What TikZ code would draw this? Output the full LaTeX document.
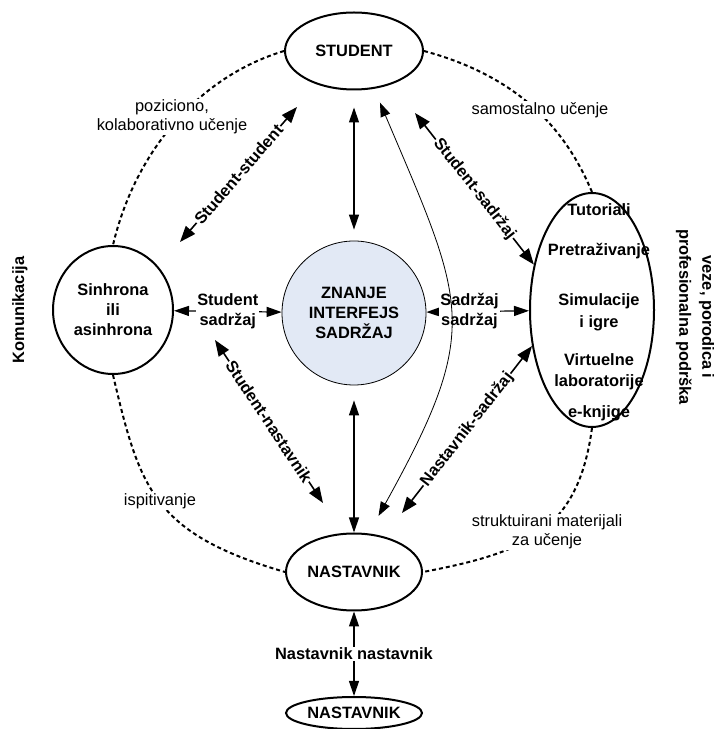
\documentclass[tikz,border=0pt]{standalone}
\usepackage{fontspec}
\setmainfont{Liberation Sans}
\usetikzlibrary{arrows.meta,shapes.geometric}
\definecolor{knowfill}{RGB}{226,233,245}
\begin{document}
\begin{tikzpicture}[x=1pt,y=1pt,
  every node/.style={font=\fontsize{16.4}{20}\selectfont},
  boldtext/.style={font=\fontsize{16.4}{20}\selectfont\bfseries,align=center},
  entity/.style={ellipse,draw,line width=2pt,inner sep=0pt,boldtext},
  lbl/.style={fill=white,inner sep=1pt,boldtext},
  note/.style={fill=white,inner sep=1pt,align=center,font=\fontsize{16.4}{19}\selectfont},
  link/.style={line width=2pt,dash pattern=on 4pt off 3pt},
  bigarrow/.style={line width=1.6pt,{Triangle[length=16pt,width=12pt]}-{Triangle[length=16pt,width=12pt]}},
  midarrow/.style={line width=1.2pt,{Triangle[length=15pt,width=10pt]}-{Triangle[length=15pt,width=10pt]}},
  thinarrow/.style={line width=0.8pt,{Triangle[length=14pt,width=10pt]}-{Triangle[length=14pt,width=10pt]}}
]
\useasboundingbox (0,0) rectangle (714,729);

% main participants
\node[entity,minimum width=138pt,minimum height=77pt] (student) at (354,678) {STUDENT};
\node[circle,draw,line width=0.8pt,fill=knowfill,minimum size=144pt,inner sep=0pt,boldtext] (know) at (354,416) {ZNANJE\\INTERFEJS\\SADRŽAJ};
\node[entity,minimum width=120pt,minimum height=128pt] (sync) at (113,419) {Sinhrona\\ili\\asinhrona};
\node[entity,minimum width=124pt,minimum height=234pt] (tools) at (592,419) {};
\node[boldtext] (toollist) at (599,417) {Tutoriali\\[20pt]Pretraživanje\\[30pt]Simulacije\\[2pt]i igre\\[18pt]Virtuelne\\[1pt]laboratorije\\[11pt]e-knjige};
\node[entity,minimum width=136pt,minimum height=77pt] (teacher) at (354,157) {NASTAVNIK};
\node[entity,minimum width=136pt,minimum height=32pt] (peer) at (354,16) {NASTAVNIK};

% side captions
\node[rotate=90,boldtext] (comm) at (20,419) {Komunikacija};
\node[rotate=-90,boldtext] (support) at (695,412) {veze, porodica i\\[3pt]profesionalna podrška};

% dashed ring of relations
\draw[link] (student.west) .. controls +(-86,-26) and +(22,93) .. (sync.north);
\draw[link] (sync.south) .. controls +(26.6,-113.2) and +(-132,38.4) .. (teacher.west);
\draw[link] (student.east) .. controls +(102.9,-27.6) and +(-22.9,54.2) .. (tools.north);
\draw[link] (tools.south) .. controls +(-14,-103.5) and +(102,19.5) .. (teacher.east);

\node[note] (pn) at (172,612) {poziciono,\\kolaborativno učenje};
\node[note] (su) at (540,619) {samostalno učenje};
\node[note] (isp) at (160,228) {ispitivanje};
\node[note] (sm) at (547,197) {struktuirani materijali\\za učenje};

% straight interactions
\draw[midarrow,shorten <=17pt,shorten >=11pt] (student) -- (know);
\draw[midarrow,shorten <=15pt] (know) -- (teacher);
\draw[midarrow] (teacher) -- (peer) node[lbl,midway] {Nastavnik nastavnik};
\draw[midarrow] (sync) -- (know) node[lbl,midway] {Student\\sadržaj};
\draw[midarrow] (know) -- (tools) node[lbl,pos=0.42] {Sadržaj\\sadržaj};

% diagonal interactions
\coordinate (ssA) at (297,622);
\coordinate (ssB) at (180,487);
\coordinate (scA) at (415,616);
\coordinate (stA) at (215,389);
\coordinate (stB) at (323,226);
\coordinate (nsA) at (402,216);
\draw[bigarrow] (ssB) -- (ssA) node[lbl,midway,sloped] {Student-student};
\draw[bigarrow] (scA) -- (tools.142) node[lbl,midway,sloped] {Student-sadržaj};
\draw[bigarrow] (stA) -- (stB) node[lbl,midway,sloped] {Student-nastavnik};
\draw[bigarrow] (nsA) -- (tools.211) node[lbl,midway,sloped] {Nastavnik-sadržaj};

% direct student-teacher link
\draw[thinarrow,shorten <=15pt,shorten >=20pt] (student.-62) to[out=-67,in=61,looseness=1.35] (teacher.69);
\end{tikzpicture}
\end{document}
